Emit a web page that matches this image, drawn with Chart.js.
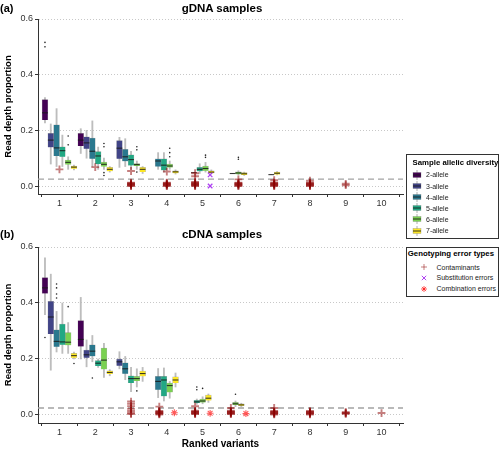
<!DOCTYPE html>
<html><head><meta charset="utf-8">
<script src="https://cdn.jsdelivr.net/npm/chart.js@4.4.1/dist/chart.umd.min.js"></script>
<style>
html,body{margin:0;padding:0;background:#fff}
body{width:500px;height:449px;position:relative;overflow:hidden;font-family:"Liberation Sans",Arial,Helvetica,sans-serif;color:#000}
canvas{position:absolute;left:0}
.t{position:absolute;font-weight:bold;white-space:nowrap;line-height:1}
.legbox{position:absolute;border:1px solid #333;box-sizing:border-box;background:#fff}
.lt{position:absolute;font-weight:bold;font-size:7.8px;white-space:nowrap;line-height:1}
.ll{position:absolute;font-size:7px;white-space:nowrap;line-height:1;color:#1a1a1a}
.key{position:absolute}
</style></head><body>
<canvas id="cA" width="410" height="222" style="top:0"></canvas>
<canvas id="cB" width="410" height="221" style="top:228px"></canvas>
<div class="t" style="left:0;top:3px;font-size:11px">(a)</div>
<div class="t" style="left:122px;width:200px;text-align:center;top:3px;font-size:11.5px">gDNA samples</div>
<div class="t" style="left:0;top:229px;font-size:11px">(b)</div>
<div class="t" style="left:122px;width:200px;text-align:center;top:229px;font-size:11.5px">cDNA samples</div>
<div id="legend"></div>
<script>
// ---------- data ----------
const variants = [1, 2, 3, 4, 5, 6, 7, 8, 9, 10];
const yTicks = [0, 0.2, 0.4, 0.6];
const groupLabels = ['2-allele', '3-allele', '4-allele', '5-allele', '6-allele', '7-allele'];
const errorLabels = ['Contaminants', 'Substitution errors', 'Combination errors'];
const threshold = 0.025;

// box stats: [variant, lower whisker, Q1, median, Q3, upper whisker]
const gDNA_2allele = [[1, 0.227, 0.237, 0.263, 0.311, 0.318], [2, 0.117, 0.144, 0.165, 0.189, 0.206]];
const gDNA_3allele = [[1, 0.079, 0.139, 0.165, 0.189, 0.223], [2, 0.100, 0.134, 0.155, 0.177, 0.200], [3, 0.067, 0.098, 0.136, 0.163, 0.175]];
const gDNA_4allele = [[1, 0.070, 0.108, 0.137, 0.220, 0.278], [2, 0.070, 0.098, 0.125, 0.172, 0.234], [3, 0.070, 0.089, 0.105, 0.132, 0.170], [4, 0.060, 0.070, 0.090, 0.098, 0.120], [5, 0.048, 0.048, 0.048, 0.048, 0.048]];
const gDNA_5allele = [[1, 0.070, 0.105, 0.127, 0.141, 0.183], [2, 0.060, 0.079, 0.108, 0.124, 0.140], [3, 0.060, 0.074, 0.095, 0.112, 0.125], [4, 0.050, 0.057, 0.075, 0.098, 0.120], [5, 0.045, 0.053, 0.060, 0.067, 0.080], [6, 0.045, 0.045, 0.045, 0.045, 0.045]];
const gDNA_6allele = [[1, 0.060, 0.077, 0.085, 0.093, 0.105], [2, 0.060, 0.070, 0.078, 0.086, 0.100], [3, 0.060, 0.072, 0.077, 0.081, 0.090], [4, 0.060, 0.067, 0.072, 0.079, 0.090], [5, 0.050, 0.055, 0.063, 0.072, 0.085], [6, 0.040, 0.042, 0.047, 0.051, 0.055], [7, 0.041, 0.041, 0.041, 0.041, 0.041]];
const gDNA_7allele = [[1, 0.058, 0.062, 0.068, 0.072, 0.075], [2, 0.050, 0.053, 0.060, 0.067, 0.070], [3, 0.045, 0.050, 0.060, 0.067, 0.070], [4, 0.043, 0.046, 0.051, 0.055, 0.058], [5, 0.044, 0.046, 0.050, 0.055, 0.058], [6, 0.038, 0.040, 0.044, 0.048, 0.050], [7, 0.040, 0.041, 0.046, 0.050, 0.052]];
// outliers: [variant, value]
const gDNA_2allele_out = [[1, 0.516], [1, 0.500]];
const gDNA_3allele_out = [];
const gDNA_4allele_out = [];
const gDNA_5allele_out = [];
const gDNA_6allele_out = [[1, 0.180], [1, 0.148], [2, 0.153], [2, 0.141], [2, 0.048], [2, 0.038], [3, 0.141], [3, 0.130], [3, 0.050], [4, 0.136], [4, 0.120], [4, 0.105], [5, 0.111], [5, 0.103], [6, 0.103], [6, 0.096]];
const gDNA_7allele_out = [];
// genotyping errors: [variant, value]
const gDNA_contaminants = [[1, 0.060], [2, 0.068],
  [3, 0.054], [3, 0.000], [3, 0.002], [3, 0.004], [3, 0.006], [3, 0.008], [3, 0.010], [3, 0.012],
  [4, 0.052], [4, 0.000], [4, 0.002], [4, 0.004], [4, 0.006], [4, 0.008], [4, 0.010], [4, 0.012],
  [5, 0.046], [5, 0.035], [5, 0.000], [5, 0.002], [5, 0.004], [5, 0.006], [5, 0.008], [5, 0.010], [5, 0.012], [5, 0.015],
  [6, 0.024], [6, 0.000], [6, 0.002], [6, 0.004], [6, 0.006], [6, 0.008], [6, 0.010], [6, 0.012],
  [7, 0.021], [7, 0.000], [7, 0.002], [7, 0.004], [7, 0.006], [7, 0.008], [7, 0.010], [7, 0.012],
  [8, 0.019], [8, 0.000], [8, 0.002], [8, 0.004], [8, 0.006], [8, 0.008], [8, 0.010], [8, 0.012],
  [9, 0.003], [9, 0.008]];
const gDNA_substitution = [[5, 0.040], [5, 0.000]];
const gDNA_combination = [];

const cDNA_2allele = [[1, 0.358, 0.434, 0.454, 0.491, 0.561], [2, 0.200, 0.245, 0.270, 0.337, 0.420]];
const cDNA_3allele = [[1, 0.160, 0.289, 0.350, 0.406, 0.503], [2, 0.172, 0.204, 0.215, 0.232, 0.268], [3, 0.165, 0.176, 0.190, 0.200, 0.226]];
const cDNA_4allele = [[1, 0.225, 0.244, 0.263, 0.304, 0.370], [2, 0.190, 0.210, 0.228, 0.251, 0.284], [3, 0.126, 0.147, 0.165, 0.186, 0.209], [4, 0.062, 0.090, 0.120, 0.138, 0.166]];
const cDNA_5allele = [[1, 0.220, 0.251, 0.261, 0.325, 0.400], [2, 0.170, 0.175, 0.185, 0.194, 0.200], [3, 0.083, 0.114, 0.130, 0.140, 0.170], [4, 0.050, 0.067, 0.125, 0.138, 0.168], [5, 0.038, 0.043, 0.047, 0.052, 0.057]];
const cDNA_6allele = [[1, 0.220, 0.249, 0.260, 0.294, 0.330], [2, 0.134, 0.163, 0.196, 0.239, 0.256], [3, 0.100, 0.121, 0.130, 0.138, 0.165], [4, 0.060, 0.081, 0.105, 0.114, 0.120], [5, 0.040, 0.045, 0.050, 0.057, 0.065], [6, 0.030, 0.036, 0.040, 0.045, 0.050]];
const cDNA_7allele = [[1, 0.200, 0.204, 0.212, 0.220, 0.225], [2, 0.140, 0.146, 0.152, 0.158, 0.162], [3, 0.120, 0.138, 0.148, 0.157, 0.170], [4, 0.100, 0.114, 0.125, 0.136, 0.150], [5, 0.045, 0.052, 0.060, 0.071, 0.075], [6, 0.030, 0.033, 0.036, 0.040, 0.042]];
const cDNA_2allele_out = [[1, 0.277]];
const cDNA_3allele_out = [];
const cDNA_4allele_out = [[1, 0.468], [1, 0.454], [1, 0.432], [1, 0.418], [2, 0.132]];
const cDNA_5allele_out = [[5, 0.100], [5, 0.090]];
const cDNA_6allele_out = [[1, 0.387], [3, 0.086], [5, 0.095], [6, 0.074]];
const cDNA_7allele_out = [[1, 0.184]];
const cDNA_contaminants = [
  [3, 0.048], [3, 0.040], [3, 0.031], [3, 0.022], [3, 0.014], [3, 0.007], [3, 0.003],
  [4, 0.030], [4, 0.002], [4, 0.004], [4, 0.006], [4, 0.008], [4, 0.010], [4, 0.012], [4, 0.014],
  [5, 0.031], [5, 0.003], [5, 0.005], [5, 0.007], [5, 0.009], [5, 0.011], [5, 0.013], [5, 0.015],
  [6, 0.025], [6, 0.003], [6, 0.005], [6, 0.007], [6, 0.009], [6, 0.011], [6, 0.013], [6, 0.015],
  [7, 0.025], [7, 0.002], [7, 0.004], [7, 0.006], [7, 0.008], [7, 0.010], [7, 0.012], [7, 0.014],
  [8, 0.002], [8, 0.004], [8, 0.006], [8, 0.008], [8, 0.010], [8, 0.012], [8, 0.014],
  [9, 0.004], [9, 0.006], [9, 0.008], [9, 0.010],
  [10, 0.007]];
const cDNA_substitution = [];
const cDNA_combination = [[4, 0.008], [5, 0.006], [6, 0.005]];

// ---------- styles ----------
const FONT = '"Liberation Sans", Arial, Helvetica, sans-serif';
const groupColors = ['#440154', '#414487', '#2A788E', '#22A884', '#7AD151', '#FDE725'];
const errColors = ['rgba(139,0,0,0.5)', 'rgba(160,32,240,0.85)', 'rgba(255,0,0,0.65)'];
const errStyles = ['cross', 'crossRot', 'star'];
const errRadius = [3.9, 3.2, 3.4];
const errWidth = [1.9, 1.3, 1.1];
const BOX_STEP = 0.162;   // dodge step between boxes (x units)
const ERR_STEP = 0.42;    // dodge step between error types (x units)
const X_MIN = 0.4, X_MAX = 10.6, Y_MIN = -0.0286, Y_MAX = 0.6;

Chart.defaults.font.family = FONT;

function buildPanel(canvasId, boxSets, outSets, errSets, xTitle, padTop, xAxisH) {
  const boxData = groupColors.map(() => []);
  const whisk = [], meds = [], outs = [];
  variants.forEach(v => {
    const present = [];
    boxSets.forEach((set, g) => { const r = set.find(e => e[0] === v); if (r) present.push([g, r]); });
    const n = present.length;
    present.forEach(([g, r], k) => {
      const x = v + (k - (n - 1) / 2) * BOX_STEP;
      whisk.push({ x, y: [r[1], r[5]] });
      boxData[g].push({ x, y: [r[2], r[4]] });
      meds.push({ x, y: r[3] });
      outSets[g].filter(o => o[0] === v).forEach(o => outs.push({ x, y: o[1] }));
    });
  });
  const errData = errSets.map(() => []);
  variants.forEach(v => {
    const present = errSets.map((s, j) => [j, s.filter(e => e[0] === v)]).filter(p => p[1].length);
    const m = present.length;
    present.forEach(([j, pts], k) => {
      const x = v + (k - (m - 1) / 2) * ERR_STEP;
      pts.forEach(p => errData[j].push({ x, y: p[1] }));
    });
  });

  const datasets = [];
  datasets.push({ type: 'line', data: [{ x: X_MIN, y: threshold }, { x: X_MAX, y: threshold }],
    borderColor: '#a3a3a3', borderWidth: 1.3, borderDash: [6, 4], pointRadius: 0, tension: 0, order: 30 });
  datasets.push({ type: 'bar', data: whisk, backgroundColor: '#bdbdbd', barThickness: 1.2, grouped: false, order: 20 });
  boxData.forEach((d, g) => datasets.push({ type: 'bar', label: groupLabels[g], data: d,
    backgroundColor: groupColors[g], borderColor: 'rgba(110,110,110,0.55)', borderWidth: 0.5,
    barThickness: 5.8, grouped: false, order: 10 }));
  datasets.push({ type: 'scatter', data: meds, pointStyle: 'line', pointRadius: 2.9, pointHoverRadius: 2.9,
    pointBorderColor: 'rgba(25,25,25,0.85)', pointBorderWidth: 1.1, order: 9 });
  datasets.push({ type: 'scatter', data: outs, pointStyle: 'circle', pointRadius: 0.8, pointHoverRadius: 0.8,
    pointBackgroundColor: '#222', pointBorderWidth: 0, order: 8 });
  errData.forEach((d, j) => datasets.push({ type: 'scatter', label: errorLabels[j], data: d,
    pointStyle: errStyles[j], pointRadius: errRadius[j], pointHoverRadius: errRadius[j],
    pointBackgroundColor: 'rgba(0,0,0,0)', pointBorderColor: errColors[j], pointBorderWidth: errWidth[j], order: 3 - j }));

  new Chart(document.getElementById(canvasId), {
    type: 'bar',
    data: { datasets },
    options: {
      responsive: false, animation: false, devicePixelRatio: 1,
      events: [],
      layout: { padding: { top: padTop, right: 7, left: 0, bottom: 0 } },
      plugins: { legend: { display: false }, tooltip: { enabled: false }, title: { display: false } },
      scales: {
        x: {
          type: 'linear', min: X_MIN, max: X_MAX, offset: false,
          afterBuildTicks: s => { s.ticks = variants.map(v => ({ value: v })); },
          afterFit: s => { s.height = xAxisH; },
          ticks: { font: { size: 9 }, color: '#333', padding: 1, maxRotation: 0, autoSkip: false, callback: v => String(v) },
          grid: { drawOnChartArea: false, drawTicks: true, tickLength: 3, tickColor: '#333', tickWidth: 1 },
          border: { display: true, color: '#333', width: 1 },
          title: xTitle ? { display: true, text: xTitle, color: '#000', font: { size: 10, weight: 'bold', lineHeight: 1 }, padding: { top: 0, bottom: 0 } } : { display: false }
        },
        y: {
          type: 'linear', min: Y_MIN, max: Y_MAX,
          afterBuildTicks: s => { s.ticks = yTicks.map(v => ({ value: v })); },
          afterFit: s => { s.width = 38; },
          ticks: { font: { size: 9 }, color: '#333', padding: 2, callback: v => v.toFixed(1) },
          grid: { color: '#c8c8c8', lineWidth: 1, drawTicks: true, tickLength: 3, tickColor: '#333', tickWidth: 1 },
          border: { display: true, color: '#333', width: 1, dash: [1, 2] },
          title: { display: true, text: 'Read depth proportion', color: '#000', font: { size: 9.5, weight: 'bold', lineHeight: 1.2 }, padding: { top: 3, bottom: 0 } }
        }
      }
    }
  });
}

buildPanel('cA',
  [gDNA_2allele, gDNA_3allele, gDNA_4allele, gDNA_5allele, gDNA_6allele, gDNA_7allele],
  [gDNA_2allele_out, gDNA_3allele_out, gDNA_4allele_out, gDNA_5allele_out, gDNA_6allele_out, gDNA_7allele_out],
  [gDNA_contaminants, gDNA_substitution, gDNA_combination], null, 19, 28);
buildPanel('cB',
  [cDNA_2allele, cDNA_3allele, cDNA_4allele, cDNA_5allele, cDNA_6allele, cDNA_7allele],
  [cDNA_2allele_out, cDNA_3allele_out, cDNA_4allele_out, cDNA_5allele_out, cDNA_6allele_out, cDNA_7allele_out],
  [cDNA_contaminants, cDNA_substitution, cDNA_combination], 'Ranked variants', 19, 26);

// ---------- legends (HTML) ----------
(function () {
  const L = document.getElementById('legend');
  let h = '';
  h += '<div class="legbox" style="left:406px;top:154px;width:93px;height:85px"></div>';
  h += '<div class="lt" style="left:412.5px;top:158.5px">Sample allelic diversity</div>';
  groupLabels.forEach((lab, i) => {
    const cy = 175 + i * 11.1;
    h += '<svg class="key" width="10" height="10" style="left:411.7px;top:' + (cy - 5) + 'px">' +
      '<line x1="5" y1="0" x2="5" y2="10" stroke="#b0b0b0" stroke-width="1"/>' +
      '<rect x="1" y="2.5" width="8" height="5" fill="' + groupColors[i] + '" stroke="rgba(110,110,110,0.55)" stroke-width="0.5"/>' +
      '<line x1="1" y1="5" x2="9" y2="5" stroke="rgba(25,25,25,0.85)" stroke-width="1"/></svg>';
    h += '<div class="ll" style="left:426px;top:' + (cy - 3.6) + 'px">' + lab + '</div>';
  });
  h += '<div class="legbox" style="left:406px;top:247px;width:93px;height:50px"></div>';
  h += '<div class="lt" style="left:407.8px;top:250.3px">Genotyping error types</div>';
  const glyphs = [
    '<line x1="1" y1="4" x2="7" y2="4"/><line x1="4" y1="1" x2="4" y2="7"/>',
    '<line x1="1.8" y1="1.8" x2="6.2" y2="6.2"/><line x1="1.8" y1="6.2" x2="6.2" y2="1.8"/>',
    '<line x1="1" y1="4" x2="7" y2="4"/><line x1="4" y1="1" x2="4" y2="7"/><line x1="1.9" y1="1.9" x2="6.1" y2="6.1"/><line x1="1.9" y1="6.1" x2="6.1" y2="1.9"/>'
  ];
  errorLabels.forEach((lab, i) => {
    const cy = 267.3 + i * 10.7;
    h += '<svg class="key" width="8" height="8" style="left:420px;top:' + (cy - 4) + 'px"><g stroke="' + errColors[i] + '" stroke-width="1">' + glyphs[i] + '</g></svg>';
    h += '<div class="ll" style="left:436.5px;top:' + (cy - 3.6) + 'px">' + lab + '</div>';
  });
  L.innerHTML = h;
})();
</script>
</body></html>
